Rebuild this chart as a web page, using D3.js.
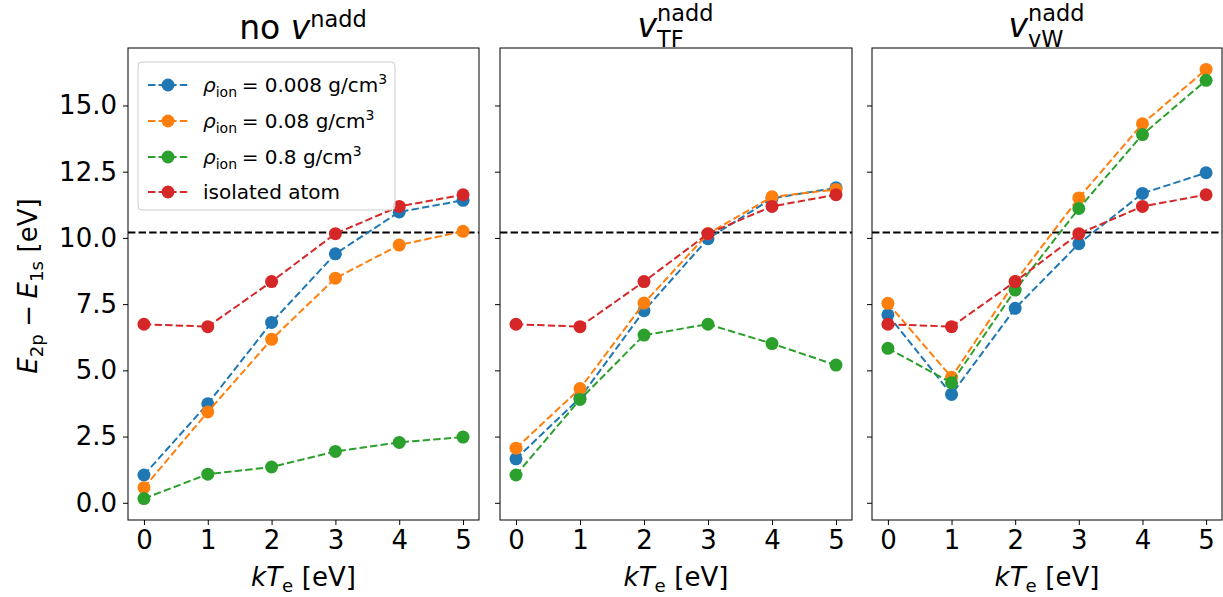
<!DOCTYPE html>
<html>
<head>
<meta charset="utf-8">
<script src="https://cdn.jsdelivr.net/npm/d3@7"></script>
<style>
body { margin: 0; background: #fff; }
text { font-family: "DejaVu Sans", sans-serif; fill: #000; }
</style>
</head>
<body>
<div id="chart"></div>
<script>
// temperatures (x values)
const kT = [0, 1, 2, 3, 4, 5]
const xTicks = [0, 1, 2, 3, 4, 5]
const yTicks = [0, 2.5, 5, 7.5, 10, 12.5, 15]
const lymanAlpha = 10.2

const seriesColors = ['#1f77b4', '#ff7f0e', '#2ca02c', '#d62728']
const densities = ['0.008', '0.08', '0.8']

// no v^nadd
const noV_rho008 = [1.05, 3.74, 6.81, 9.40, 10.98, 11.42]
const noV_rho08 = [0.57, 3.43, 6.17, 8.48, 9.73, 10.25]
const noV_rho8 = [0.16, 1.08, 1.35, 1.94, 2.28, 2.48]
// v^nadd_TF
const tf_rho008 = [1.66, 3.96, 7.25, 9.97, 11.49, 11.89]
const tf_rho08 = [2.06, 4.31, 7.54, 10.16, 11.55, 11.83]
const tf_rho8 = [1.05, 3.90, 6.33, 6.74, 6.01, 5.20]
// v^nadd_vW
const vw_rho008 = [7.10, 4.09, 7.34, 9.78, 11.68, 12.46]
const vw_rho08 = [7.53, 4.74, 8.35, 11.51, 14.31, 16.36]
const vw_rho8 = [5.83, 4.53, 8.03, 11.11, 13.90, 15.95]
// isolated atom (same reference in every panel)
const isolated = [6.74, 6.65, 8.35, 10.16, 11.19, 11.63]

const panels = [
    { title: [{ t: 'no', gap: 0.32 }, { t: 'v', it: true }, { sup: 'nadd', supShift: 0.36, scale: 0.68 }], base: 39,
      series: [noV_rho008, noV_rho08, noV_rho8, isolated] },
    { title: [{ t: 'v', it: true }, { sup: 'nadd', sub: 'TF', supShift: 0.485, subShift: 0.31, scale: 0.68 }], base: 37,
      series: [tf_rho008, tf_rho08, tf_rho8, isolated] },
    { title: [{ t: 'v', it: true }, { sup: 'nadd', sub: 'vW', supShift: 0.485, subShift: 0.31, scale: 0.68 }], base: 37,
      series: [vw_rho008, vw_rho08, vw_rho8, isolated] }
]

const W = 1223, H = 597
const svg = d3.select('#chart').append('svg').attr('width', W).attr('height', H)

// lay out a small mathtext-like label, returns group + width
function mathText(parent, parts, size) {
    const g = parent.append('g')
    let x = 0
    parts.forEach(p => {
        if (p.sup || p.sub) {
            const small = size * (p.scale || 0.7)
            let w = 0
            if (p.sup) {
                const t = g.append('text').attr('x', x).attr('y', -size * (p.supShift || 0.42))
                    .attr('font-size', small).text(p.sup)
                w = Math.max(w, t.node().getComputedTextLength())
            }
            if (p.sub) {
                const t = g.append('text').attr('x', x).attr('y', size * (p.subShift || 0.24))
                    .attr('font-size', small).text(p.sub)
                w = Math.max(w, t.node().getComputedTextLength())
            }
            x += w + size * (0.03 + (p.gap || 0))
        } else {
            const t = g.append('text').attr('x', x).attr('font-size', size)
                .attr('font-style', p.it ? 'italic' : null).text(p.t)
            x += t.node().getComputedTextLength() + (p.gap || 0) * size
        }
    })
    return { g, w: x }
}

const frameTop = 48, frameBottom = 520
const frames = [[128, 479], [500, 852], [872, 1222]]

const allVals = panels.flatMap(p => p.series.flat())
const [ymin, ymax] = d3.extent(allVals)
const pad = (ymax - ymin) * 0.05
const y = d3.scaleLinear().domain([ymin - pad, ymax + pad]).range([frameBottom, frameTop])

panels.forEach((panel, i) => {
    const [x0, x1] = frames[i]
    const x = d3.scaleLinear().domain([-0.25, 5.25]).range([x0, x1])
    const g = svg.append('g')

    // reference line
    g.append('line')
        .attr('x1', x0).attr('x2', x1)
        .attr('y1', y(lymanAlpha)).attr('y2', y(lymanAlpha))
        .attr('stroke', '#000').attr('stroke-width', 2).attr('stroke-dasharray', '7.4,3.2')

    const line = d3.line().x((d, j) => x(kT[j])).y(d => y(d))
    panel.series.forEach((vals, s) => {
        g.append('path').datum(vals)
            .attr('d', line).attr('fill', 'none')
            .attr('stroke', seriesColors[s]).attr('stroke-width', 2)
            .attr('stroke-dasharray', '7.4,3.2')
        g.selectAll(null).data(vals).enter().append('circle')
            .attr('cx', (d, j) => x(kT[j])).attr('cy', d => y(d))
            .attr('r', 6.5).attr('fill', seriesColors[s])
    })

    // frame
    g.append('rect').attr('x', x0).attr('y', frameTop)
        .attr('width', x1 - x0).attr('height', frameBottom - frameTop)
        .attr('fill', 'none').attr('stroke', '#000').attr('stroke-width', 1)

    // axes
    const xAxis = g.append('g').attr('transform', `translate(0,${frameBottom})`)
        .call(d3.axisBottom(x).tickValues(xTicks).tickSize(5).tickPadding(6).tickFormat(d3.format('d')))
    xAxis.select('.domain').remove()
    xAxis.selectAll('text').attr('font-size', 26).attr('font-family', '"DejaVu Sans", sans-serif')

    const yAxis = g.append('g').attr('transform', `translate(${x0},0)`)
        .call(d3.axisLeft(y).tickValues(yTicks).tickSize(5).tickPadding(6)
            .tickFormat(i === 0 ? d3.format('.1f') : ''))
    yAxis.select('.domain').remove()
    yAxis.selectAll('text').attr('font-size', 26).attr('font-family', '"DejaVu Sans", sans-serif')

    // title
    const tt = mathText(svg, panel.title, 33)
    tt.g.attr('transform', `translate(${(x0 + x1) / 2 - tt.w / 2},${panel.base})`)

    // x label
    const xl = mathText(svg, [{ t: 'k', it: true }, { t: 'T', it: true }, { sub: 'e', subShift: 0.22, gap: 0.3 }, { t: '[eV]' }], 26)
    xl.g.attr('transform', `translate(${(x0 + x1) / 2 - xl.w / 2},${586})`)
})

// y label
const yl = mathText(svg, [{ t: 'E', it: true }, { sub: '2p', gap: 0.25 }, { t: '−', gap: 0.25 }, { t: 'E', it: true }, { sub: '1s', gap: 0.3 }, { t: '[eV]' }], 26)
yl.g.attr('transform', `translate(37,${286 + yl.w / 2}) rotate(-90)`)

// legend
const legend = svg.append('g')
legend.append('rect').attr('x', 138).attr('y', 62).attr('width', 257).attr('height', 148)
    .attr('rx', 4).attr('fill', '#fff').attr('fill-opacity', 0.8)
    .attr('stroke', '#ccc').attr('stroke-width', 1)
const legendLabels = densities.map(d => [{ t: 'ρ', it: true }, { sub: 'ion', gap: 0.2 }, { t: '= ' + d + ' g/cm' }, { sup: '3' }])
    .concat([[{ t: 'isolated atom' }]])
const legendY = [85, 121, 157, 192]
legendLabels.forEach((lab, s) => {
    const ly = legendY[s]
    legend.append('line').attr('x1', 148).attr('x2', 188).attr('y1', ly).attr('y2', ly)
        .attr('stroke', seriesColors[s]).attr('stroke-width', 2).attr('stroke-dasharray', '7.4,3.2')
    legend.append('circle').attr('cx', 168).attr('cy', ly).attr('r', 6.5).attr('fill', seriesColors[s])
    const lt = mathText(legend, lab, 20)
    lt.g.attr('transform', `translate(203,${ly + 7})`)
})
</script>
</body>
</html>
